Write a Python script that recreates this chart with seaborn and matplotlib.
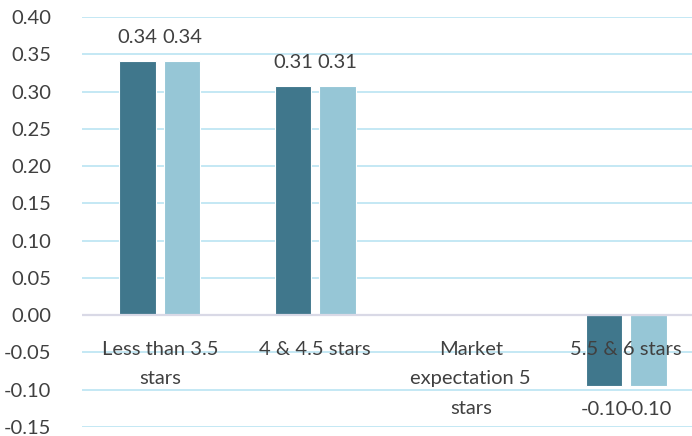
import matplotlib
matplotlib.use("Agg")
import matplotlib.pyplot as plt
import seaborn as sns
import pandas as pd

categories = ["Less than 3.5\nstars", "4 & 4.5 stars", "Market\nexpectation 5\nstars", "5.5 & 6 stars"]
series_names = ["Series 1", "Series 2"]
series1 = [0.341, 0.307, 0.0, -0.095]
series2 = [0.341, 0.307, 0.0, -0.095]
yticks = [-0.15, -0.10, -0.05, 0.00, 0.05, 0.10, 0.15, 0.20, 0.25, 0.30, 0.35, 0.40]

df = pd.DataFrame({
    "category": categories * 2,
    "series": [series_names[0]] * 4 + [series_names[1]] * 4,
    "value": series1 + series2,
})

sns.set_theme(style="white")
plt.rcParams["font.family"] = ["Lato", "DejaVu Sans"]
TXT = "#404040"
FS = 14.5

fig = plt.figure(figsize=(6.92, 4.36), dpi=100)
ax = fig.add_axes([82 / 692, 1 - 427 / 436, (704 - 82) / 692, (427 - 17) / 436])

sns.barplot(data=df, x="category", y="value", hue="series", order=categories,
            hue_order=series_names, palette=["#40778C", "#96C6D6"], saturation=1,
            width=0.57, gap=0.18, edgecolor="white", linewidth=0.8,
            legend=False, ax=ax, zorder=3)

ax.set_ylim(-0.15, 0.40)
ax.set_xlim(-0.5, 3.5)
ax.set_yticks(yticks)
ax.set_yticklabels([f"{v:.2f}" for v in yticks], color=TXT, fontsize=FS)
ax.tick_params(axis="y", length=0, pad=22)
ax.set_xticks([])
ax.set_xlabel("")
ax.set_ylabel("")
for s in ax.spines.values():
    s.set_visible(False)
for v in yticks:
    if v == 0:
        continue
    ax.axhline(v, color="#BFE6F3", lw=1.3, zorder=0)
ax.axhline(0, color="#D9D9E6", lw=1.6, zorder=4)

for cont in ax.containers:
    labels = [("" if abs(b.get_height()) < 1e-9 else f"{b.get_height():.2f}") for b in cont]
    ax.bar_label(cont, labels=labels, padding=11, color=TXT, fontsize=FS)

for i, c in enumerate(categories):
    ax.annotate(c, xy=(i, 0), xytext=(0, -18.5), textcoords="offset points",
                ha="center", va="top", color=TXT, fontsize=FS,
                linespacing=1.9, zorder=5)

fig.savefig("out.png", dpi=100)
